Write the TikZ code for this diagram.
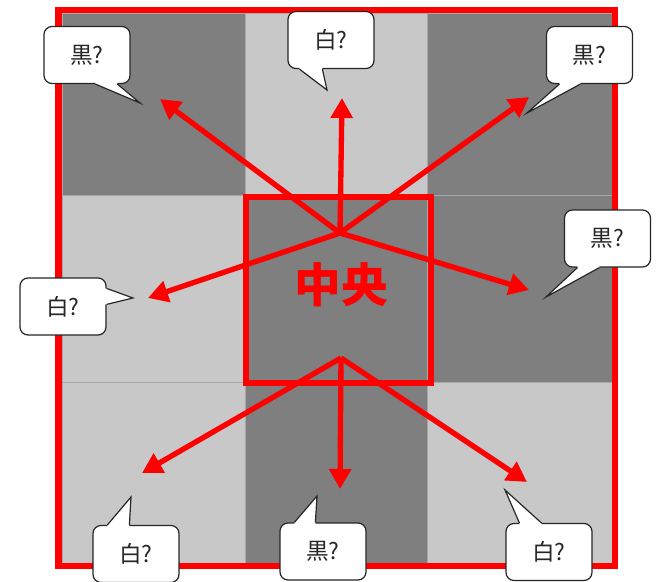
\documentclass[tikz,border=0pt]{standalone}
\usepackage{fontspec}
\setmainfont{Noto Sans CJK JP}
\usetikzlibrary{arrows.meta,calc}
\definecolor{dk}{HTML}{7F7F7F}
\definecolor{lt}{HTML}{C8C8C8}
\definecolor{rd}{HTML}{FF0000}
\definecolor{sep}{HTML}{A8A8A8}
\newcommand{\bub}[8]{%
  \node[bubble] (#1) at (#2) {#3};
  \fill[white] ($(#1.#4)+(#5)$) -- (#6) -- ($(#1.#4)+(#7)$) -- ($(#1.#4)+(#7)+(#8)$) -- ($(#1.#4)+(#5)+(#8)$) -- cycle;
  \draw[bubline] ($(#1.#4)+(#5)$) -- (#6) -- ($(#1.#4)+(#7)$);
}
\begin{document}
\begin{tikzpicture}[x=0.75pt,y=-0.75pt,
  cellbox/.style={draw=sep,line width=0.6pt},
  arr/.style={draw=rd,line width=4pt,-{Triangle[length=15pt,width=16pt]}},
  bubline/.style={draw=black!85,line width=0.9pt,line join=miter},
  bubble/.style={draw=black!85,line width=0.9pt,fill=white,rounded corners=6pt,
    minimum width=64.5pt,minimum height=42.75pt,inner sep=0pt,
    text=black!85,font=\fontsize{17}{20}\selectfont}]
\useasboundingbox (0,0) rectangle (658,582);
% grid cells
\path[cellbox,fill=dk] (62,13) rectangle (245,195);
\path[cellbox,fill=lt] (245,13) rectangle (427,195);
\path[cellbox,fill=dk] (427,13) rectangle (612,195);
\path[cellbox,fill=lt] (62,195) rectangle (245,382);
\path[cellbox,fill=dk] (245,195) rectangle (427,382);
\path[cellbox,fill=dk] (427,195) rectangle (612,382);
\path[cellbox,fill=lt] (62,382) rectangle (245,563);
\path[cellbox,fill=dk] (245,382) rectangle (427,563);
\path[cellbox,fill=lt] (427,382) rectangle (612,563);
% outer frame
\draw[rd,line width=5pt] (58.5,10) rectangle (615,566);
% centre box
\draw[rd,line width=4.2pt] (246,197) rectangle (431,383);
\node[text=rd,font=\bfseries\fontsize{35}{40}\selectfont] (mid) at (341,285) {中央};
% arrows
\coordinate (hubT) at (340,233);
\coordinate (hubB) at (341,358);
\coordinate (tUp) at (342,98);
\coordinate (tUL) at (160,99);
\coordinate (tUR) at (529,97);
\coordinate (tL) at (148,298);
\coordinate (tR) at (529,290);
\coordinate (tDown) at (340,489);
\coordinate (tDL) at (142,473);
\coordinate (tDR) at (527,482);
\draw[arr] (hubT) -- (tUp);
\draw[arr] (hubT) -- (tUL);
\draw[arr] (hubT) -- (tUR);
\draw[arr] (hubT) -- (tL);
\draw[arr] (hubT) -- (tR);
\draw[arr] (hubB) -- (tDown);
\draw[arr] (hubB) -- (tDL);
\draw[arr] (hubB) -- (tDR);
% speech bubbles
\bub{bTL}{87,55}{黒?}{south west}{52,0}{140,103}{74,0}{0,-3}
\bub{bTC}{331,40}{白?}{south west}{12,0}{327,90}{35,0}{0,-3}
\bub{bTR}{589.5,55}{黒?}{south west}{13.5,0}{527,113}{34.5,0}{0,-3}
\bub{bMR}{607.5,238.5}{黒?}{south west}{13.5,0}{546,297}{35.5,0}{0,-3}
\bub{bML}{63,306.5}{白?}{north east}{0,11}{133,298}{0,27}{-3,0}
\bub{bBL}{136,554}{白?}{north west}{15,0}{131,497}{37,0}{0,3}
\bub{bBC}{323,551.5}{黒?}{north west}{15,0}{317,496}{36,0}{0,3}
\bub{bBR}{549,552}{白?}{north west}{14,0}{505,490}{36,0}{0,3}
\end{tikzpicture}
\end{document}
